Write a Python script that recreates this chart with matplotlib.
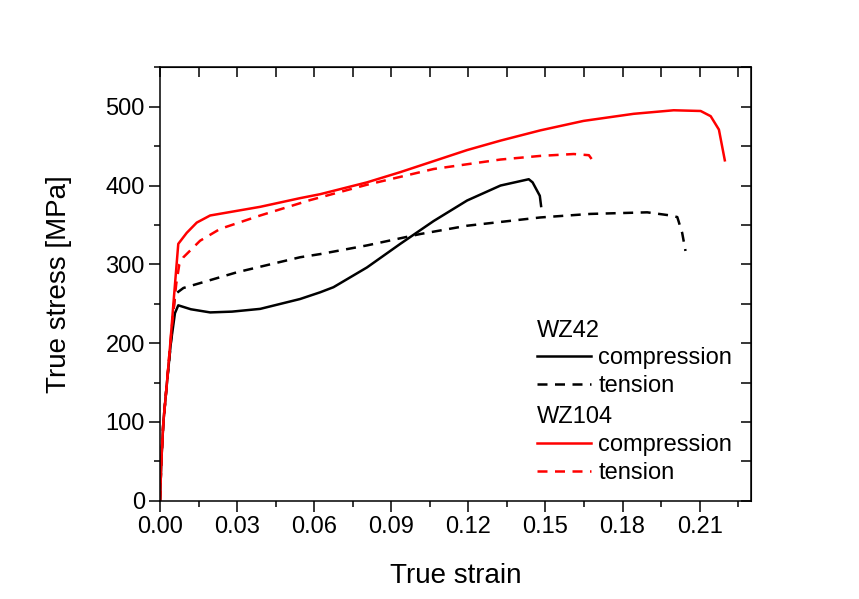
import matplotlib.pyplot as plt
import numpy as np

plt.rcParams['font.family'] = ['Liberation Sans', 'DejaVu Sans']

# WZ42 compression (black solid)
wz42_c_strain = [0.0, 0.0005, 0.0013, 0.0027, 0.0042, 0.0058, 0.0071, 0.012, 0.0195, 0.028,
                 0.039, 0.0545, 0.0623, 0.0675, 0.0805, 0.0935, 0.1065, 0.1195, 0.1325,
                 0.1435, 0.145, 0.1478, 0.1483]
wz42_c_stress = [0, 50, 100, 150, 200, 238, 248, 243, 239, 240,
                 243.5, 256, 264.5, 271, 296, 326, 355, 381, 400,
                 408, 404, 387, 374]

# WZ42 tension (black dashed)
wz42_t_strain = [0.0, 0.0005, 0.0013, 0.0027, 0.0042, 0.0052, 0.0058, 0.0091, 0.03, 0.0545,
                 0.0623, 0.0805, 0.1013, 0.1195, 0.148, 0.1675, 0.1896, 0.1987, 0.2013,
                 0.2032, 0.2045]
wz42_t_stress = [0, 50, 100, 150, 200, 240, 262, 270, 290, 309,
                 313, 324, 338.5, 349, 359.5, 364, 366, 362, 360,
                 340, 317]

# WZ104 compression (red solid)
wz104_c_strain = [0.0, 0.0005, 0.0013, 0.0027, 0.0040, 0.0052, 0.0062, 0.0071, 0.0104, 0.0143,
                  0.0195, 0.039, 0.0545, 0.0623, 0.0805, 0.0935, 0.1065, 0.1195, 0.1325,
                  0.148, 0.1648, 0.1843, 0.1999, 0.2104, 0.2143, 0.2175, 0.2198]
wz104_c_stress = [0, 50, 100, 150, 200, 250, 290, 326, 340, 353,
                  362, 373, 384, 389, 404, 417, 431, 445, 457,
                  470, 482, 491, 495.5, 494.6, 488, 471, 432]

# WZ104 tension (red dashed)
wz104_t_strain = [0.0, 0.0005, 0.0013, 0.0027, 0.0040, 0.0052, 0.0063, 0.0075, 0.0091, 0.0156,
                  0.0234, 0.039, 0.0584, 0.0805, 0.1065, 0.1325, 0.148, 0.161, 0.1669, 0.1692]
wz104_t_stress = [0, 50, 100, 150, 200, 240, 275, 300, 309, 330,
                  345, 362, 381.5, 401, 421, 433, 437.6, 440, 438.5, 428]

fig = plt.figure(figsize=(8.59, 5.99), dpi=100)
ax = fig.add_axes([0.1863, 0.164, 0.688, 0.7236])

lw = 1.8
dash = (4.0, 3.0)
l1, = ax.plot(wz42_c_strain, wz42_c_stress, color='black', lw=lw, label='compression')
l2, = ax.plot(wz42_t_strain, wz42_t_stress, color='black', lw=lw, dashes=dash, label='tension')
l3, = ax.plot(wz104_c_strain, wz104_c_stress, color='red', lw=lw, label='compression')
l4, = ax.plot(wz104_t_strain, wz104_t_stress, color='red', lw=lw, dashes=dash, label='tension')

ax.set_xlim(0, 0.23)
ax.set_ylim(0, 550)
ax.set_xticks(np.arange(0, 0.211, 0.03))
ax.set_xticks(np.arange(0, 0.231, 0.015), minor=True)
ax.set_yticks(np.arange(0, 501, 100))
ax.set_yticks(np.arange(0, 551, 50), minor=True)
ax.xaxis.set_major_formatter(plt.FormatStrFormatter('%.2f'))
ax.tick_params(which='major', direction='out', length=8, width=1.1, labelsize=17, pad=3)
ax.tick_params(which='minor', direction='out', length=4, width=1.1)
for s in ax.spines.values():
    s.set_linewidth(1.1)

# inward ticks on top and right
top = ax.secondary_xaxis('top')
top.set_xticks(np.arange(0, 0.231, 0.015))
top.tick_params(direction='in', length=7, width=1.1, labeltop=False)
right = ax.secondary_yaxis('right')
right.set_yticks(np.arange(0, 551, 50))
right.tick_params(direction='in', length=7, width=1.1, labelright=False)

ax.set_xlabel('True strain', fontsize=20, labelpad=18)
ax.set_ylabel('True stress [MPa]', fontsize=20, labelpad=24)

leg_kw = dict(loc='upper left', frameon=False, fontsize=17, title_fontsize=17,
              alignment='left', handlelength=2.3, handletextpad=0.3,
              labelspacing=0.25, borderpad=0, borderaxespad=0)
leg1 = ax.legend([l1, l2], ['compression', 'tension'], title='WZ42',
                 bbox_to_anchor=(0.638, 0.418), **leg_kw)
ax.add_artist(leg1)
ax.legend([l3, l4], ['compression', 'tension'], title='WZ104',
          bbox_to_anchor=(0.638, 0.218), **leg_kw)

fig.savefig('out.png', dpi=100)
